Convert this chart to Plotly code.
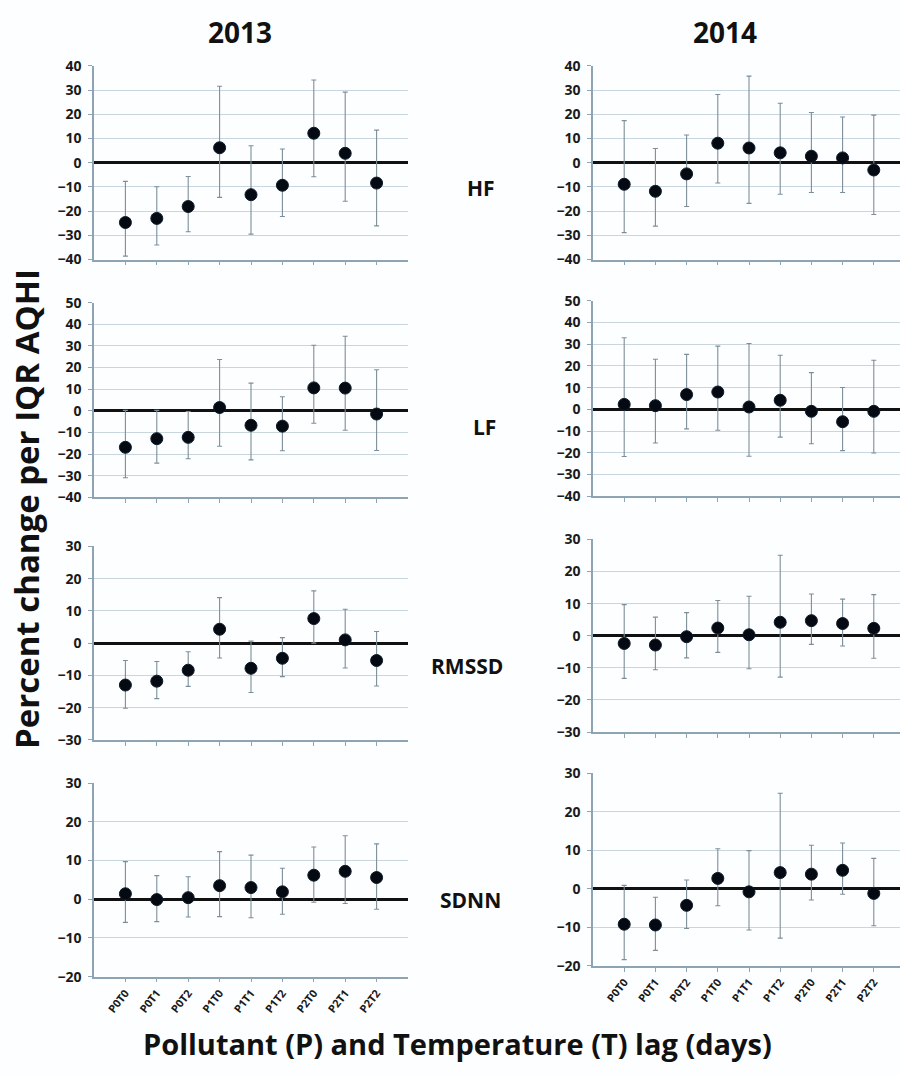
import plotly.graph_objects as go

categories = ["P0T0", "P0T1", "P0T2", "P1T0", "P1T1", "P1T2", "P2T0", "P2T1", "P2T2"]
years = ["2013", "2014"]
metrics = ["HF", "LF", "RMSSD", "SDNN"]

# HF
hf_2013 = [-24.7, -23.0, -18.1, 6.2, -13.2, -9.3, 12.2, 3.9, -8.4]
hf_2013_lo = [-38.6, -34.0, -28.5, -14.3, -29.5, -22.2, -5.8, -15.9, -26.1]
hf_2013_hi = [-7.7, -9.9, -5.7, 31.6, 7.0, 5.7, 34.2, 29.2, 13.5]
hf_2014 = [-8.9, -11.8, -4.6, 8.1, 6.1, 4.1, 2.7, 2.0, -3.0]
hf_2014_lo = [-28.9, -26.2, -18.1, -8.4, -16.8, -13.0, -12.3, -12.3, -21.4]
hf_2014_hi = [17.4, 5.9, 11.5, 28.2, 35.8, 24.6, 20.8, 18.9, 19.7]

# LF
lf_2013 = [-16.9, -12.9, -12.3, 1.5, -6.7, -7.1, 10.6, 10.5, -1.5]
lf_2013_lo = [-31.0, -24.2, -22.2, -16.4, -22.7, -18.5, -5.8, -9.0, -18.4]
lf_2013_hi = [0.2, 0.2, -0.3, 23.7, 12.8, 6.5, 30.3, 34.5, 19.0]
lf_2014 = [2.3, 1.7, 6.8, 8.0, 1.1, 4.2, -0.9, -5.7, -0.9]
lf_2014_lo = [-21.7, -15.5, -9.0, -9.6, -21.6, -12.8, -15.8, -19.0, -20.1]
lf_2014_hi = [33.0, 23.1, 25.3, 29.1, 30.3, 24.9, 16.9, 10.1, 22.6]

# RMSSD
rmssd_2013 = [-13.0, -11.8, -8.4, 4.3, -7.8, -4.7, 7.6, 1.0, -5.4]
rmssd_2013_lo = [-20.2, -17.2, -13.4, -4.6, -15.3, -10.4, 0.0, -7.7, -13.3]
rmssd_2013_hi = [-5.4, -5.7, -2.7, 14.1, 0.6, 1.7, 16.2, 10.5, 3.6]
rmssd_2014 = [-2.4, -2.9, -0.3, 2.4, 0.3, 4.2, 4.7, 3.8, 2.3]
rmssd_2014_lo = [-13.3, -10.6, -6.9, -5.2, -10.3, -12.9, -2.7, -3.2, -7.0]
rmssd_2014_hi = [9.7, 5.8, 7.2, 11.0, 12.3, 25.1, 13.0, 11.4, 12.8]

# SDNN
sdnn_2013 = [1.4, -0.1, 0.4, 3.5, 3.0, 1.9, 6.2, 7.2, 5.6]
sdnn_2013_lo = [-6.0, -5.8, -4.6, -4.5, -4.8, -3.9, -0.8, -1.1, -2.6]
sdnn_2013_hi = [9.7, 6.1, 5.8, 12.3, 11.4, 8.0, 13.5, 16.4, 14.3]
sdnn_2014 = [-9.2, -9.4, -4.3, 2.7, -0.8, 4.2, 3.8, 4.8, -1.2]
sdnn_2014_lo = [-18.4, -16.0, -10.3, -4.4, -10.7, -12.8, -2.9, -1.4, -9.6]
sdnn_2014_hi = [0.9, -2.2, 2.3, 10.4, 9.9, 24.8, 11.3, 11.9, 7.9]

y_ranges = {"HF": [-40, 40], "LF": [-40, 50], "RMSSD": [-30, 30], "SDNN": [-20, 30]}

panels = {
    ("HF", "2013"): (hf_2013, hf_2013_lo, hf_2013_hi),
    ("HF", "2014"): (hf_2014, hf_2014_lo, hf_2014_hi),
    ("LF", "2013"): (lf_2013, lf_2013_lo, lf_2013_hi),
    ("LF", "2014"): (lf_2014, lf_2014_lo, lf_2014_hi),
    ("RMSSD", "2013"): (rmssd_2013, rmssd_2013_lo, rmssd_2013_hi),
    ("RMSSD", "2014"): (rmssd_2014, rmssd_2014_lo, rmssd_2014_hi),
    ("SDNN", "2013"): (sdnn_2013, sdnn_2013_lo, sdnn_2013_hi),
    ("SDNN", "2014"): (sdnn_2014, sdnn_2014_lo, sdnn_2014_hi),
}

W, H = 900, 1075
x_px = {"2013": (94, 408), "2014": (593, 900)}
x_rng = {"2013": [-1, 9], "2014": [-1, 8.84]}
y_px = {
    ("HF", "2013"): (57, 254), ("HF", "2014"): (57, 254),
    ("LF", "2013"): (298, 496), ("LF", "2014"): (296, 495),
    ("RMSSD", "2013"): (546, 743), ("RMSSD", "2014"): (539, 735),
    ("SDNN", "2013"): (787, 984), ("SDNN", "2014"): (777, 973),
}

AXIS_COL = "#8ea4b3"
GRID_COL = "#c9d6de"
ERR_COL = "#7d8e98"
FAM = "Open Sans, Arial, sans-serif"
TICK_FONT = dict(family=FAM, size=14, color="#1a1a1a", weight="bold")

fig = go.Figure()
layout = {}
idx = 0
for m in metrics:
    for yr in years:
        idx += 1
        vals, lo, hi = panels[(m, yr)]
        xs = list(range(len(categories)))
        up = [h - v for h, v in zip(hi, vals)]
        dn = [v - l for v, l in zip(vals, lo)]
        sfx = "" if idx == 1 else str(idx)
        fig.add_trace(go.Scatter(
            x=xs, y=vals, mode="markers",
            marker=dict(color="#050a12", size=12, line=dict(color="#0d1b2a", width=1)),
            error_y=dict(type="data", symmetric=False, array=up, arrayminus=dn,
                         color=ERR_COL, thickness=1.1, width=2.5),
            xaxis="x" + sfx, yaxis="y" + sfx, showlegend=False,
            hovertext=categories,
        ))
        x0, x1 = x_px[yr]
        t, b = y_px[(m, yr)]
        last_row = (m == "SDNN")
        layout["xaxis" + sfx] = dict(
            domain=[x0 / W, x1 / W], anchor="y" + sfx, range=x_rng[yr],
            tickmode="array", tickvals=xs, ticktext=categories,
            showticklabels=last_row, tickangle=-52,
            tickfont=dict(family=FAM, size=11, color="#1a1a1a", weight="bold"),
            showgrid=False, zeroline=False, showline=True, linecolor=AXIS_COL, linewidth=1.5,
            ticks="outside", ticklen=4, tickcolor=AXIS_COL, fixedrange=True,
        )
        ymin, ymax = y_ranges[m]
        layout["yaxis" + sfx] = dict(
            domain=[1 - b / H, 1 - t / H], anchor="x" + sfx, range=[ymin, ymax],
            tickmode="linear", tick0=0, dtick=10, tickfont=TICK_FONT, ticklabelstandoff=4,
            showgrid=True, gridcolor=GRID_COL, gridwidth=1,
            zeroline=True, zerolinecolor="#111111", zerolinewidth=2.6,
            showline=True, linecolor=AXIS_COL, linewidth=1.5,
            ticks="outside", ticklen=4, tickcolor=AXIS_COL, fixedrange=True,
        )

title_font = dict(family=FAM, size=28, color="#111111", weight="bold")
label_font = dict(family=FAM, size=21, color="#111111", weight="bold")

annotations = [
    dict(text="2013", x=240 / W, y=1 - 22 / H, xref="paper", yref="paper",
         showarrow=False, font=title_font, xanchor="center", yanchor="middle"),
    dict(text="2014", x=725 / W, y=1 - 22 / H, xref="paper", yref="paper",
         showarrow=False, font=title_font, xanchor="center", yanchor="middle"),
]
row_label_pos = {"HF": (481, 181), "LF": (484, 424), "RMSSD": (467, 668), "SDNN": (470, 906)}
for m in metrics:
    px, py = row_label_pos[m]
    annotations.append(dict(text=m, x=px / W, y=1 - py / H, xref="paper", yref="paper",
                            showarrow=False, font=label_font, xanchor="center", yanchor="middle"))
annotations.append(dict(text="Percent change per IQR AQHI", x=26 / W, y=1 - 508 / H,
                        xref="paper", yref="paper", showarrow=False, textangle=-90,
                        font=dict(family=FAM, size=33, color="#111111", weight="bold"),
                        xanchor="center", yanchor="middle"))
annotations.append(dict(text="Pollutant (P) and Temperature (T) lag (days)", x=458 / W, y=1 - 1052 / H,
                        xref="paper", yref="paper", showarrow=False,
                        font=dict(family=FAM, size=29, color="#111111", weight="bold"),
                        xanchor="center", yanchor="middle"))

fig.update_layout(
    width=W, height=H, margin=dict(l=0, r=0, t=0, b=0),
    paper_bgcolor="#fdfeff", plot_bgcolor="#fdfeff",
    annotations=annotations, showlegend=False, **layout,
)

POST = (
    "document.documentElement.style.margin='0';document.documentElement.style.padding='0';"
    "document.documentElement.style.overflow='hidden';"
    "document.body.style.margin='0';document.body.style.padding='0';document.body.style.overflow='hidden';"
)
fig.write_html("out.html", config={"displayModeBar": False}, post_script=POST)
